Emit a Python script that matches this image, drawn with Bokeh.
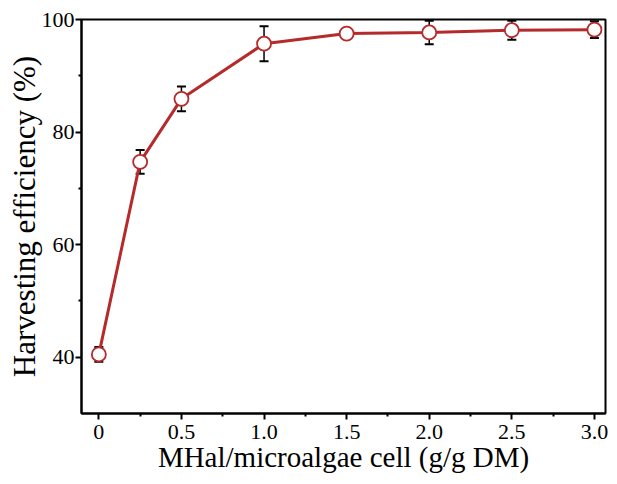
from bokeh.plotting import figure
from bokeh.models import FixedTicker, Whisker, TeeHead, ColumnDataSource
from bokeh.embed import file_html
from bokeh.resources import INLINE

# data
dose = [0, 0.25, 0.5, 1.0, 1.5, 2.0, 2.5, 3.0]
efficiency = [40.5, 74.7, 85.9, 95.7, 97.5, 97.7, 98.1, 98.2]
err = [1.3, 2.1, 2.2, 3.1, 0.8, 2.1, 1.7, 1.5]

x_ticks = [0, 0.5, 1.0, 1.5, 2.0, 2.5, 3.0]
x_tick_labels = ["0", "0.5", "1.0", "1.5", "2.0", "2.5", "3.0"]
x_minor = [0.25, 0.75, 1.25, 1.75, 2.25, 2.75]
y_ticks = [40, 60, 80, 100]
y_minor = [50, 70, 90]

FONT = "Liberation Serif"
RED = "#b52a2a"

src = ColumnDataSource(dict(
    x=dose, y=efficiency,
    lo=[v - e for v, e in zip(efficiency, err)],
    hi=[v + e for v, e in zip(efficiency, err)],
))

p = figure(width=609, height=476, x_range=(-0.105, 3.067), y_range=(30, 100),
           output_backend="svg", toolbar_location=None,
           min_border_left=81, min_border_right=4, min_border_top=19, min_border_bottom=63)

p.grid.visible = False
p.outline_line_color = "black"
p.outline_line_width = 2
p.background_fill_color = "white"
p.border_fill_color = "white"

p.xaxis.ticker = FixedTicker(ticks=x_ticks, minor_ticks=x_minor)
p.xaxis.major_label_overrides = {t: l for t, l in zip(x_ticks, x_tick_labels)}
p.yaxis.ticker = FixedTicker(ticks=y_ticks, minor_ticks=y_minor)

for ax in (p.xaxis[0], p.yaxis[0]):
    ax.axis_line_width = 2
    ax.axis_line_color = "black"
    ax.major_tick_in = 0
    ax.major_tick_out = 6
    ax.minor_tick_in = 0
    ax.minor_tick_out = 3
    ax.major_tick_line_width = 2
    ax.minor_tick_line_width = 2
    ax.major_label_text_font = FONT
    ax.major_label_text_font_size = "22px"
    ax.major_label_text_color = "black"
    ax.axis_label_text_font = FONT
    ax.axis_label_text_font_style = "normal"
    ax.axis_label_text_color = "black"

p.xaxis.axis_label_text_font_size = "29px"
p.yaxis.axis_label_text_font_size = "31px"
p.xaxis.axis_label = "MHal/microalgae cell (g/g DM)"
p.yaxis.axis_label = "Harvesting efficiency (%)"
p.xaxis.major_label_standoff = 5
p.xaxis.axis_label_standoff = -1
p.yaxis.major_label_standoff = 1
p.yaxis.axis_label_standoff = -3

wh = Whisker(source=src, base="x", lower="lo", upper="hi",
             line_color="black", line_width=1.5,
             upper_head=TeeHead(size=9, line_color="black", line_width=2),
             lower_head=TeeHead(size=9, line_color="black", line_width=2))
p.add_layout(wh)

p.line("x", "y", source=src, line_color=RED, line_width=3)
p.scatter("x", "y", source=src, marker="circle", size=14,
          fill_color="white", line_color=RED, line_width=1.8)

open("out.html", "w").write(file_html(p, INLINE))
